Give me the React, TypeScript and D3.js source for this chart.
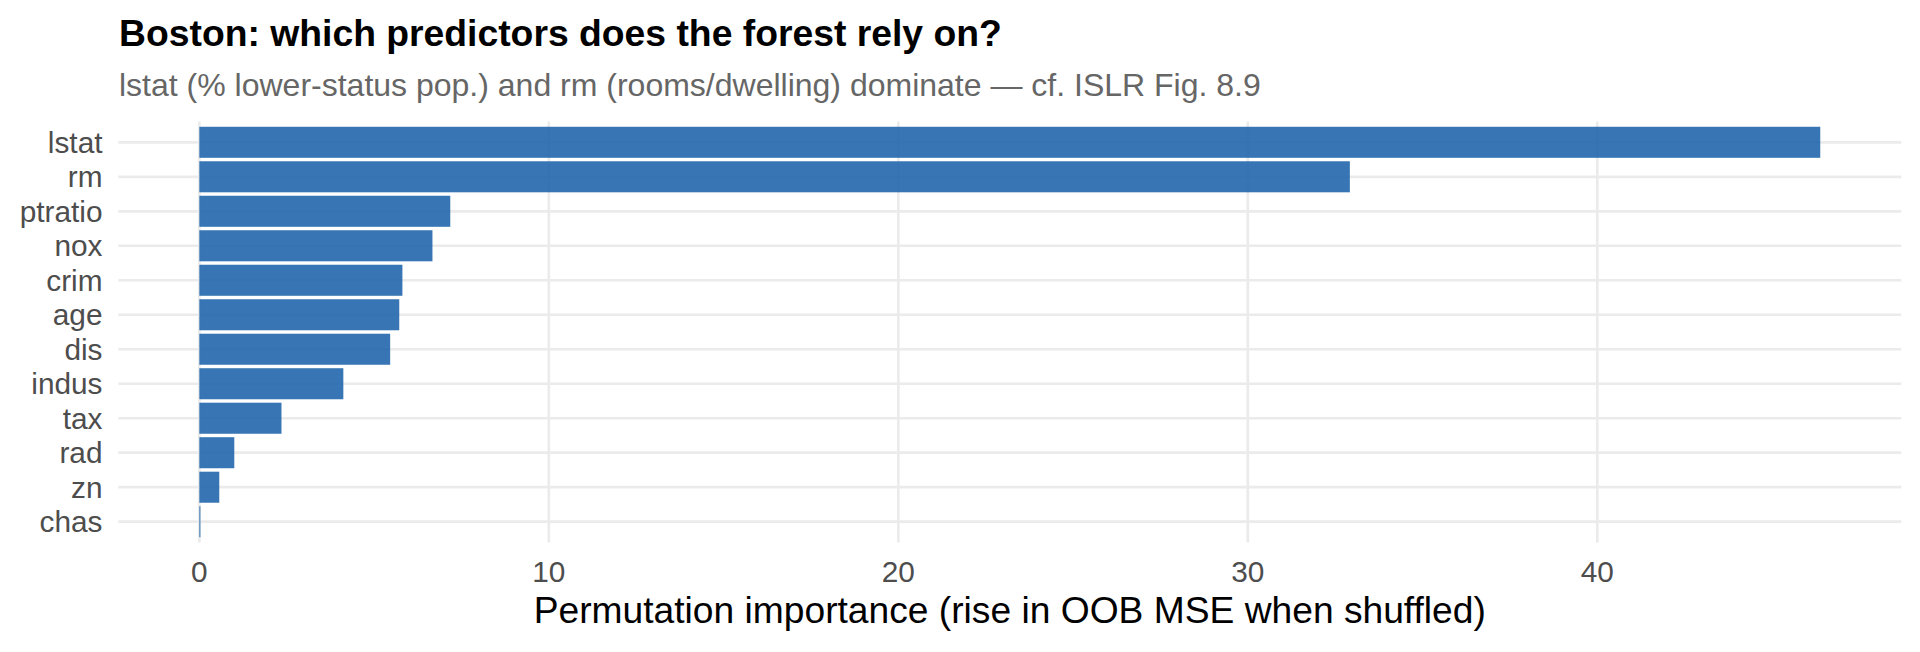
import React, { useEffect, useRef } from 'react';
import * as d3 from 'd3';

// permutation importance (top to bottom)
const predictors = ['lstat', 'rm', 'ptratio', 'nox', 'crim', 'age', 'dis', 'indus', 'tax', 'rad', 'zn', 'chas'];
const importance = [46.38, 32.92, 7.18, 6.67, 5.81, 5.72, 5.46, 4.12, 2.35, 1.0, 0.57, 0.03];
const xTicks = [0, 10, 20, 30, 40];

const titleText = 'Boston: which predictors does the forest rely on?';
const subtitleText = 'lstat (% lower-status pop.) and rm (rooms/dwelling) dominate \u2014 cf. ISLR Fig. 8.9';
const xLabel = 'Permutation importance (rise in OOB MSE when shuffled)';

type Row = { name: string; value: number };

const W = 1920;
const H = 652;
const FONT = '"Liberation Sans", Arial, Helvetica, sans-serif';

const App: React.FC = () => {
    const ref = useRef<SVGSVGElement | null>(null);

    useEffect(() => {
        if (!ref.current) return;
        const data: Row[] = predictors.map((p, i) => ({ name: p, value: importance[i] }));

        const panel = { left: 118.3, right: 1901.3, top: 121.6, bottom: 542.4 };

        // ggplot-style 5% expansion on the continuous axis
        const maxV = d3.max(data, d => d.value) as number;
        const pad = maxV * 0.05;
        const x = d3.scaleLinear()
            .domain([-pad, maxV + pad])
            .range([panel.left, panel.right]);

        const y = d3.scaleBand<string>()
            .domain(predictors)
            .range([panel.top, panel.bottom])
            .paddingInner(0.1)
            .paddingOuter(0.15);

        const svg = d3.select(ref.current);
        svg.selectAll('*').remove();

        svg.append('rect').attr('width', W).attr('height', H).attr('fill', '#ffffff');

        const grid = svg.append('g')
            .attr('stroke', '#ebebeb')
            .attr('stroke-width', 2.7);

        grid.selectAll('line.h')
            .data(predictors)
            .join('line')
            .attr('class', 'h')
            .attr('x1', panel.left)
            .attr('x2', panel.right)
            .attr('y1', d => (y(d) as number) + y.bandwidth() / 2)
            .attr('y2', d => (y(d) as number) + y.bandwidth() / 2);

        grid.selectAll('line.v')
            .data(xTicks)
            .join('line')
            .attr('class', 'v')
            .attr('x1', d => x(d))
            .attr('x2', d => x(d))
            .attr('y1', panel.top)
            .attr('y2', panel.bottom);

        svg.append('g')
            .selectAll('rect')
            .data(data)
            .join('rect')
            .attr('x', x(0))
            .attr('y', d => y(d.name) as number)
            .attr('width', d => Math.max(1, x(d.value) - x(0)))
            .attr('height', y.bandwidth())
            .attr('fill', '#2166ac')
            .attr('fill-opacity', 0.9);

        // y axis labels
        svg.append('g')
            .selectAll('text')
            .data(predictors)
            .join('text')
            .attr('x', 102.5)
            .attr('y', d => (y(d) as number) + y.bandwidth() / 2)
            .attr('dy', '0.35em')
            .attr('text-anchor', 'end')
            .attr('font-family', FONT)
            .attr('font-size', 29.8)
            .attr('fill', '#4d4d4d')
            .text(d => d);

        // x axis tick labels
        svg.append('g')
            .selectAll('text')
            .data(xTicks)
            .join('text')
            .attr('x', d => x(d))
            .attr('y', 581.5)
            .attr('text-anchor', 'middle')
            .attr('font-family', FONT)
            .attr('font-size', 29.8)
            .attr('fill', '#4d4d4d')
            .text(d => d3.format('d')(d));

        svg.append('text')
            .attr('x', (panel.left + panel.right) / 2)
            .attr('y', 623)
            .attr('text-anchor', 'middle')
            .attr('font-family', FONT)
            .attr('font-size', 37.2)
            .attr('fill', '#000000')
            .text(xLabel);

        svg.append('text')
            .attr('x', 119)
            .attr('y', 46)
            .attr('font-family', FONT)
            .attr('font-weight', 'bold')
            .attr('font-size', 37.3)
            .attr('fill', '#000000')
            .text(titleText);

        svg.append('text')
            .attr('x', 119)
            .attr('y', 96)
            .attr('font-family', FONT)
            .attr('font-size', 32)
            .attr('fill', '#666666')
            .text(subtitleText);
    }, []);

    return (
        <div style={{ position: 'absolute', left: 0, top: 0 }}>
            <svg ref={ref} width={W} height={H} style={{ display: 'block' }} />
        </div>
    );
};

export default App;
